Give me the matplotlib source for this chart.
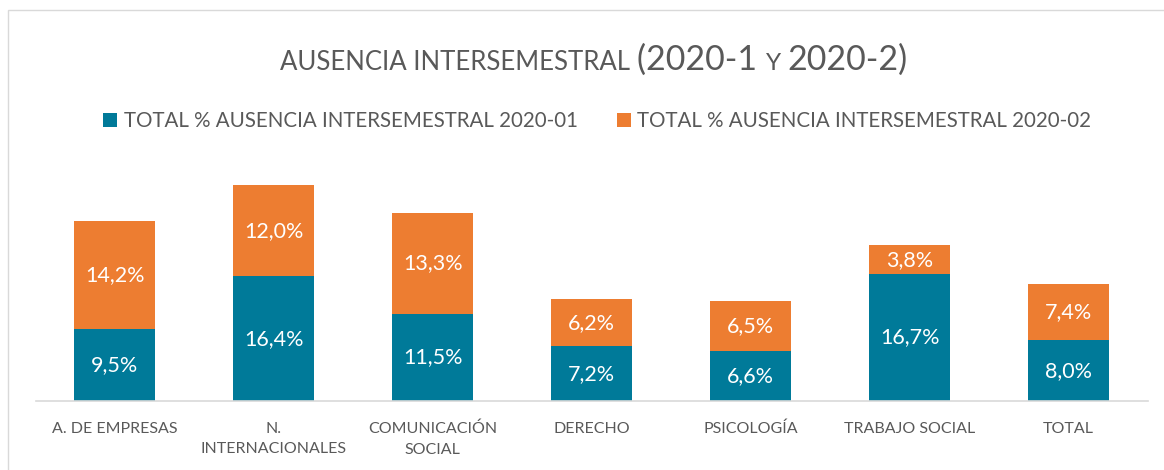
import matplotlib.pyplot as plt
from matplotlib.patches import Rectangle
import numpy as np

plt.rcParams['font.family'] = ['Lato', 'DejaVu Sans']

categories = ['A. DE EMPRESAS', 'N.\nINTERNACIONALES', 'COMUNICACIÓN\nSOCIAL',
              'DERECHO', 'PSICOLOGÍA', 'TRABAJO SOCIAL', 'TOTAL']
ausencia_2020_01 = [9.5, 16.4, 11.5, 7.2, 6.6, 16.7, 8.0]
ausencia_2020_02 = [14.2, 12.0, 13.3, 6.2, 6.5, 3.8, 7.4]
series_names = ['TOTAL % AUSENCIA INTERSEMESTRAL 2020-01',
                'TOTAL % AUSENCIA INTERSEMESTRAL 2020-02']

teal = '#007A99'
orange = '#ED7D31'
gray = '#595959'

fig = plt.figure(figsize=(11.64, 4.7), dpi=100)
fig.patches.append(Rectangle((8 / 1164, -0.05), 1.2, 1 - 10 / 470 + 0.05,
                             transform=fig.transFigure, fill=False,
                             edgecolor='#D9D9D9', linewidth=1))
ax = fig.add_axes([35.5 / 1164, 69 / 470, 1112.5 / 1164, 228 / 470])

x = np.arange(len(categories))
w = 0.51
b1 = ax.bar(x, ausencia_2020_01, w, color=teal, label=series_names[0])
b2 = ax.bar(x, ausencia_2020_02, w, bottom=ausencia_2020_01, color=orange,
            label=series_names[1])

for bars in (b1, b2):
    labels = [f'{v:.1f}%'.replace('.', ',') for v in bars.datavalues]
    ax.bar_label(bars, labels=labels, label_type='center', color='white',
                 fontsize=15.5)

ax.set_xlim(-0.5, len(categories) - 0.5)
ax.set_ylim(0, 30)
ax.set_yticks([])
ax.set_xticks(x)
ax.set_xticklabels(categories, fontsize=11.5, color=gray, linespacing=1.6)
ax.tick_params(axis='x', length=0, pad=15)
for s in ['top', 'right', 'left']:
    ax.spines[s].set_visible(False)
ax.spines['bottom'].set_color('#D9D9D9')
ax.spines['bottom'].set_linewidth(1.2)

fig.legend(loc='center', bbox_to_anchor=(0.513, 1 - 121 / 470), ncol=2,
           frameon=False, fontsize=14.8, handlelength=0.7, handleheight=0.7,
           handletextpad=0.3, columnspacing=1.9, labelcolor=gray)

# title in pieces: small text, larger parenthesis, small-caps "Y"
renderer = fig.canvas.get_renderer()
parts = [('AUSENCIA INTERSEMESTRAL ', 18.5), ('(2020-1 ', 24.5), ('Y ', 17.5), ('2020-2)', 24.5)]
texts = []
xpos = 0
for s, size in parts:
    t = fig.text(xpos, 1 - 70 / 470, s, fontsize=size, color=gray,
                 ha='left', va='baseline')
    bb = t.get_window_extent(renderer)
    xpos += bb.width / fig.bbox.width
    texts.append(t)
start = 0.51 - xpos / 2
for t in texts:
    t.set_x(t.get_position()[0] + start)

fig.savefig('out.png', dpi=100)
